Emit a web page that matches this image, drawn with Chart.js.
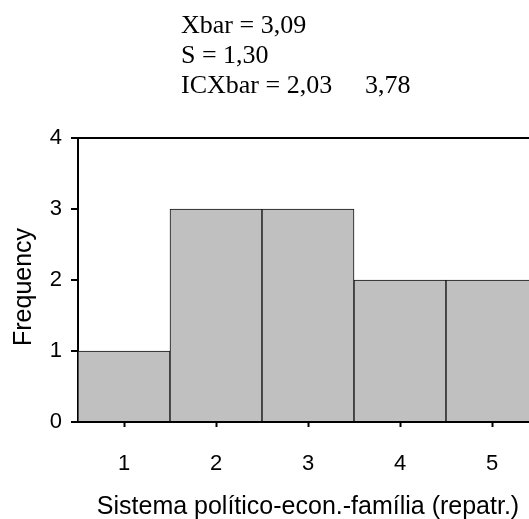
<!DOCTYPE html>
<html>
<head>
<meta charset="utf-8">
<script src="https://cdn.jsdelivr.net/npm/chart.js@4.4.1/dist/chart.umd.min.js"></script>
<style>
  html, body { margin: 0; padding: 0; background: #fff; overflow: hidden; width: 529px; height: 519px; }
  canvas { display: block; }
</style>
</head>
<body>
<canvas id="c" width="560" height="519"></canvas>
<script>
const categories = ['1', '2', '3', '4', '5'];
const frequencies = [1, 3, 3, 2, 2];
const yTicks = [0, 1, 2, 3, 4];
const statLines = ['Xbar = 3,09', 'S = 1,30', 'ICXbar = 2,03'];
const ciUpper = '3,78';
const xTitle = 'Sistema político-econ.-família (repatr.)';
const yTitle = 'Frequency\u00a0\u00a0';

const statsPlugin = {
  id: 'stats',
  afterDraw(chart) {
    const ctx = chart.ctx;
    ctx.save();
    ctx.fillStyle = '#000';
    ctx.font = '26px "Liberation Serif", "Times New Roman", serif';
    ctx.textBaseline = 'alphabetic';
    ctx.textAlign = 'left';
    const baselines = [33, 63, 93];
    statLines.forEach((t, i) => ctx.fillText(t, 181, baselines[i]));
    ctx.fillText(ciUpper, 365, 93);
    ctx.restore();
  }
};

new Chart(document.getElementById('c'), {
  type: 'bar',
  data: {
    labels: categories,
    datasets: [{
      data: frequencies,
      backgroundColor: '#c0c0c0',
      borderColor: '#111',
      borderWidth: 1,
      barPercentage: 1,
      categoryPercentage: 1
    }]
  },
  options: {
    responsive: false,
    animation: false,
    layout: { padding: { top: 138, left: 0, right: 22, bottom: 0 } },
    plugins: { legend: { display: false }, tooltip: { enabled: false } },
    scales: {
      x: {
        grid: { offset: false, drawOnChartArea: false, drawTicks: true, tickLength: 5, tickColor: '#000', tickWidth: 2 },
        border: { display: true, color: '#000', width: 2 },
        ticks: { color: '#000', font: { family: '"Liberation Sans", Arial, sans-serif', size: 22 }, padding: 24, maxRotation: 0 },
        title: { display: true, text: xTitle, color: '#000', font: { family: '"Liberation Sans", Arial, sans-serif', size: 25 }, padding: { top: 6, bottom: -3 } },
        afterFit(scale) { scale.height = 97; }
      },
      y: {
        min: 0, max: 4,
        afterBuildTicks(scale) { scale.ticks = yTicks.map(v => ({ value: v })); },
        grid: {
          drawOnChartArea: true,
          color: (c) => (c.tick && c.tick.value === 4) ? '#000' : 'rgba(0,0,0,0)',
          lineWidth: 2,
          drawTicks: true, tickLength: 7, tickColor: '#000', tickWidth: 2
        },
        border: { display: true, color: '#000', width: 2 },
        ticks: { color: '#000', font: { family: '"Liberation Sans", Arial, sans-serif', size: 22 }, padding: 9 },
        title: { display: true, text: yTitle, color: '#000', font: { family: '"Liberation Sans", Arial, sans-serif', size: 25 }, padding: { top: 9, bottom: 0 } },
        afterFit(scale) { scale.width = 78; }
      }
    }
  },
  plugins: [statsPlugin]
});
</script>
</body>
</html>
